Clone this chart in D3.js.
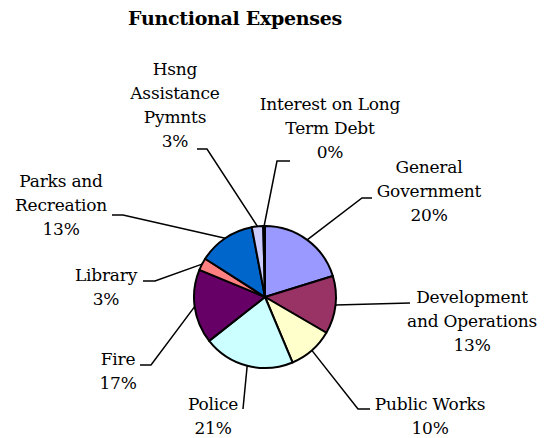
<!DOCTYPE html>
<html>
<head>
<meta charset="utf-8">
<script src="https://cdn.jsdelivr.net/npm/d3@7/dist/d3.min.js"></script>
<style>
  html, body { margin: 0; padding: 0; background: #ffffff; }
  svg { display: block; }
  svg text { font-family: "DejaVu Serif", "Liberation Serif", serif; fill: #000; }
</style>
</head>
<body>
<svg id="chart" width="544" height="438"></svg>
<script>
// Functional expenses, share of total by function (percent)
const categories = [
  "General Government",
  "Development and Operations",
  "Public Works",
  "Police",
  "Fire",
  "Library",
  "Parks and Recreation",
  "Hsng Assistance Pymnts",
  "Interest on Long Term Debt"
];
const values = [20.3, 13.2, 10.3, 20.8, 16.9, 2.8, 13.0, 2.6, 0.4];
const colors = ["#9999ff", "#993366", "#ffffcc", "#ccffff", "#660066",
                "#ff8080", "#0066cc", "#ccccff", "#000080"];
// How each category name wraps onto label lines
const labelLines = [
  ["General", "Government"],
  ["Development", "and Operations"],
  ["Public Works"],
  ["Police"],
  ["Fire"],
  ["Library"],
  ["Parks and", "Recreation"],
  ["Hsng", "Assistance", "Pymnts"],
  ["Interest on Long", "Term Debt"]
];

// Label placement: text centre, first baseline, and leader bend/end points
const labelLayout = [
  { x: 429, y: 173, pts: [[362, 198], [372, 198]] },
  { x: 472, y: 303, pts: [[410, 303]] },
  { x: 430, y: 410, pts: [[358, 409], [370, 409]] },
  { x: 213, y: 410, pts: [[243, 409]] },
  { x: 118, y: 365, pts: [[151, 365], [140, 365]] },
  { x: 106, y: 281, pts: [[155, 281], [143, 281]] },
  { x: 61,  y: 187, pts: [[123, 215], [112, 215]] },
  { x: 175, y: 75,  pts: [[207, 149], [197, 149]] },
  { x: 330, y: 110, pts: [[277, 161], [290, 161]] }
];

const data = categories.map((c, i) => ({ name: c, value: values[i], color: colors[i], lines: labelLines[i], layout: labelLayout[i] }));
const total = d3.sum(values);

const svg = d3.select("#chart");
const cx = 265, cy = 297, radius = 71;
const lineHeight = 24;

svg.append("text")
  .attr("x", 235).attr("y", 25)
  .attr("text-anchor", "middle")
  .style("font-size", "19px").style("font-weight", "bold")
  .style("letter-spacing", "-0.3px")
  .text("Functional Expenses");

const pie = d3.pie().sort(null).value(d => d.value);
const arcs = pie(data);
const arc = d3.arc().innerRadius(0).outerRadius(radius);

const g = svg.append("g").attr("transform", `translate(${cx},${cy})`);

g.selectAll("path.slice")
  .data(arcs)
  .join("path")
  .attr("class", "slice")
  .attr("d", arc)
  .attr("fill", d => d.data.color)
  .attr("stroke", "#000")
  .attr("stroke-width", 2)
  .attr("stroke-linejoin", "round");

// Leader lines from the rim of each slice to its label
const line = d3.line();
svg.selectAll("path.leader")
  .data(arcs)
  .join("path")
  .attr("class", "leader")
  .attr("fill", "none")
  .attr("stroke", "#000")
  .attr("stroke-width", 1.5)
  .attr("d", d => {
    const a = (d.startAngle + d.endAngle) / 2;
    const start = [cx + radius * Math.sin(a), cy - radius * Math.cos(a)];
    return line([start, ...d.data.layout.pts]);
  });

const labels = svg.selectAll("text.label")
  .data(arcs)
  .join("text")
  .attr("class", "label")
  .attr("text-anchor", "middle")
  .style("font-size", "17px")
  .style("letter-spacing", "-0.2px");

labels.each(function (d) {
  const t = d3.select(this);
  const L = d.data.layout;
  const pct = Math.round(d.data.value / total * 100) + "%";
  [...d.data.lines, pct].forEach((s, i) => {
    t.append("tspan").attr("x", L.x).attr("y", L.y + i * lineHeight).text(s);
  });
});
</script>
</body>
</html>
